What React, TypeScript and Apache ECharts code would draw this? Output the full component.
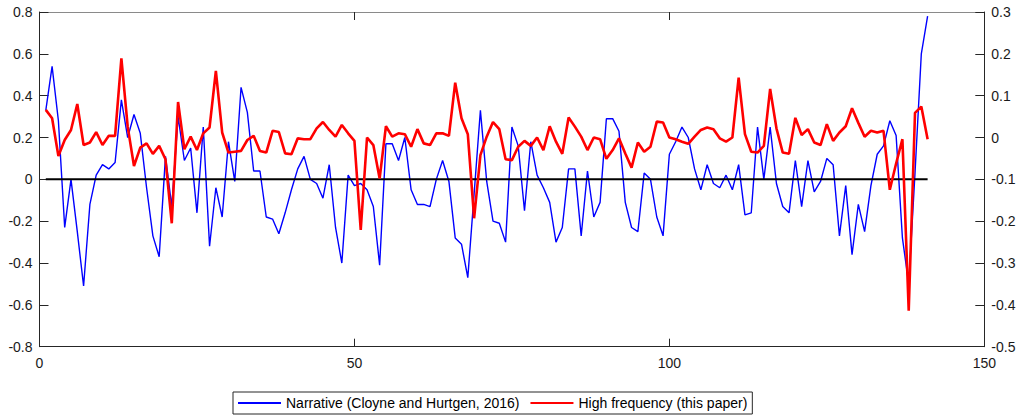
import React, { useEffect, useRef } from "react";
import * as echarts from "echarts";

const periods: number[] = Array.from({ length: 141 }, (_, i) => i + 1);

const narrative: number[] = [
  0.33, 0.54, 0.28, -0.23, 0.0, -0.25, -0.51, -0.12, 0.02, 0.07,
  0.05, 0.08, 0.38, 0.2, 0.31, 0.22, -0.04, -0.27, -0.37, 0.11,
  -0.13, 0.3, 0.09, 0.15, -0.16, 0.25, -0.32, -0.04, -0.18, 0.18,
  -0.01, 0.44, 0.32, 0.04, 0.04, -0.18, -0.19, -0.26, -0.16, -0.05,
  0.05, 0.11, 0.0, -0.02, -0.09, 0.07, -0.23, -0.4, 0.02, -0.03,
  -0.02, -0.05, -0.13, -0.41, 0.17, 0.17, 0.09, 0.2, -0.05, -0.12,
  -0.12, -0.13, 0.0, 0.09, -0.01, -0.28, -0.31, -0.47, -0.07, 0.33,
  -0.01, -0.2, -0.21, -0.3, 0.25, 0.16, -0.15, 0.18, 0.02, -0.04,
  -0.11, -0.3, -0.23, 0.05, 0.05, -0.27, 0.04, -0.18, -0.11, 0.29,
  0.29, 0.23, -0.11, -0.23, -0.25, 0.03, 0.0, -0.18, -0.27, 0.12,
  0.18, 0.25, 0.2, 0.05, -0.05, 0.07, -0.02, -0.04, 0.02, -0.05,
  0.07, -0.17, -0.16, 0.25, 0.0, 0.25, -0.02, -0.13, -0.16, 0.09,
  -0.13, 0.09, -0.06, -0.01, 0.1, 0.07, -0.27, -0.03, -0.36, -0.12,
  -0.25, -0.03, 0.12, 0.16, 0.28, 0.21, -0.28, -0.5, 0.03, 0.6,
  0.78,
];

const highFrequency: number[] = [
  0.066, 0.046, -0.044, -0.006, 0.018, 0.08, -0.018, -0.012, 0.013, -0.018,
  0.004, 0.004, 0.189, 0.026, -0.068, -0.024, -0.014, -0.039, -0.02, -0.052,
  -0.205, 0.085, -0.028, 0.002, -0.03, 0.01, 0.024, 0.159, 0.012, -0.036,
  -0.034, -0.032, -0.006, 0.004, -0.032, -0.036, 0.016, 0.013, -0.038, -0.04,
  -0.002, -0.004, -0.004, 0.022, 0.037, 0.018, 0.002, 0.03, 0.01, -0.008,
  -0.221, 0.0, -0.018, -0.098, 0.027, 0.002, 0.01, 0.008, -0.022, 0.02,
  -0.014, -0.018, 0.01, 0.01, 0.004, 0.131, 0.046, 0.008, -0.193, -0.042,
  0.002, 0.037, 0.02, -0.052, -0.054, -0.022, -0.008, -0.02, 0.0, -0.03,
  0.027, -0.01, -0.039, 0.048, 0.026, 0.002, -0.03, 0.0, -0.004, -0.051,
  -0.03, -0.002, -0.038, -0.072, -0.012, -0.034, -0.022, 0.038, 0.036, 0.0,
  -0.004, -0.01, -0.015, 0.002, 0.018, 0.024, 0.02, -0.002, -0.01, 0.0,
  0.143, 0.008, -0.034, -0.036, -0.02, 0.116, 0.022, -0.036, -0.039, 0.047,
  0.006, 0.02, -0.012, -0.018, 0.032, -0.008, 0.012, 0.027, 0.07, 0.035,
  0.002, 0.016, 0.012, 0.016, -0.125, -0.062, -0.004, -0.414, 0.059, 0.074,
  -0.004,
];

const zeroLine: number[][] = [
  [1, 0],
  [141, 0],
];

const seriesNames = ["Narrative (Cloyne and Hurtgen, 2016)", "High frequency (this paper)"];

const AXIS = "#262626";
const FONT = "Liberation Sans, Arial, Helvetica, sans-serif";

const fmt = (v: number) => {
  const r = Math.round(v * 10) / 10;
  return r === 0 ? "0" : String(r);
};

export default function App() {
  const ref = useRef<HTMLDivElement>(null);

  useEffect(() => {
    if (!ref.current) return;
    const chart = echarts.init(ref.current, undefined, { renderer: "svg" });
    const label = { color: "#1a1a1a", fontFamily: FONT, fontSize: 14 };
    chart.setOption({
      animation: false,
      backgroundColor: "#ffffff",
      grid: { left: 39.5, right: 34.7, top: 12, bottom: 69.3, containLabel: false },
      legend: {
        data: seriesNames,
        left: 233,
        top: 392,
        orient: "horizontal",
        itemWidth: 43,
        itemHeight: 12,
        itemGap: 10,
        padding: [4, 5, 4, 4],
        borderColor: AXIS,
        borderWidth: 1,
        backgroundColor: "#ffffff",
        itemStyle: { opacity: 0 },
        textStyle: { color: "#000000", fontFamily: FONT, fontSize: 14 },
      },
      xAxis: [
        {
          type: "value",
          position: "bottom",
          min: 0,
          max: 150,
          interval: 50,
          axisLine: { show: true, onZero: false, lineStyle: { color: AXIS, width: 1 } },
          axisTick: { show: true, inside: true, length: 8, lineStyle: { color: AXIS } },
          axisLabel: { ...label, margin: 9 },
          splitLine: { show: false },
        },
        {
          type: "value",
          position: "top",
          min: 0,
          max: 150,
          interval: 50,
          axisLine: { show: true, onZero: false, lineStyle: { color: "#8a8a8a", width: 1 } },
          axisTick: { show: true, inside: true, length: 8, lineStyle: { color: AXIS } },
          axisLabel: { show: false },
          splitLine: { show: false },
        },
      ],
      yAxis: [
        {
          type: "value",
          position: "left",
          min: -0.8,
          max: 0.8,
          interval: 0.2,
          axisLine: { show: true, onZero: false, lineStyle: { color: AXIS, width: 1 } },
          axisTick: { show: true, inside: true, length: 9, lineStyle: { color: AXIS } },
          axisLabel: { ...label, margin: 7, formatter: fmt },
          splitLine: { show: false },
        },
        {
          type: "value",
          position: "right",
          min: -0.5,
          max: 0.3,
          interval: 0.1,
          axisLine: { show: true, onZero: false, lineStyle: { color: AXIS, width: 1 } },
          axisTick: { show: true, inside: true, length: 9, lineStyle: { color: AXIS } },
          axisLabel: { ...label, margin: 7, formatter: fmt },
          splitLine: { show: false },
        },
      ],
      series: [
        {
          name: seriesNames[0],
          type: "line",
          xAxisIndex: 0,
          yAxisIndex: 0,
          data: periods.map((p, i) => [p, narrative[i]]),
          showSymbol: false,
          symbol: "none",
          lineStyle: { color: "#0000ff", width: 1.4 },
          itemStyle: { color: "#0000ff" },
          z: 2,
        },
        {
          name: "zero",
          type: "line",
          xAxisIndex: 0,
          yAxisIndex: 0,
          data: zeroLine,
          showSymbol: false,
          symbol: "none",
          lineStyle: { color: "#000000", width: 2 },
          itemStyle: { color: "#000000" },
          z: 3,
        },
        {
          name: seriesNames[1],
          type: "line",
          xAxisIndex: 0,
          yAxisIndex: 1,
          data: periods.map((p, i) => [p, highFrequency[i]]),
          showSymbol: false,
          symbol: "none",
          lineStyle: { color: "#ff0000", width: 2.6 },
          itemStyle: { color: "#ff0000" },
          z: 4,
        },
      ],
    });
    return () => chart.dispose();
  }, []);

  return (
    <div
      ref={ref}
      style={{ position: "absolute", left: 0, top: 0, width: 1019, height: 416, background: "#fff" }}
    />
  );
}
